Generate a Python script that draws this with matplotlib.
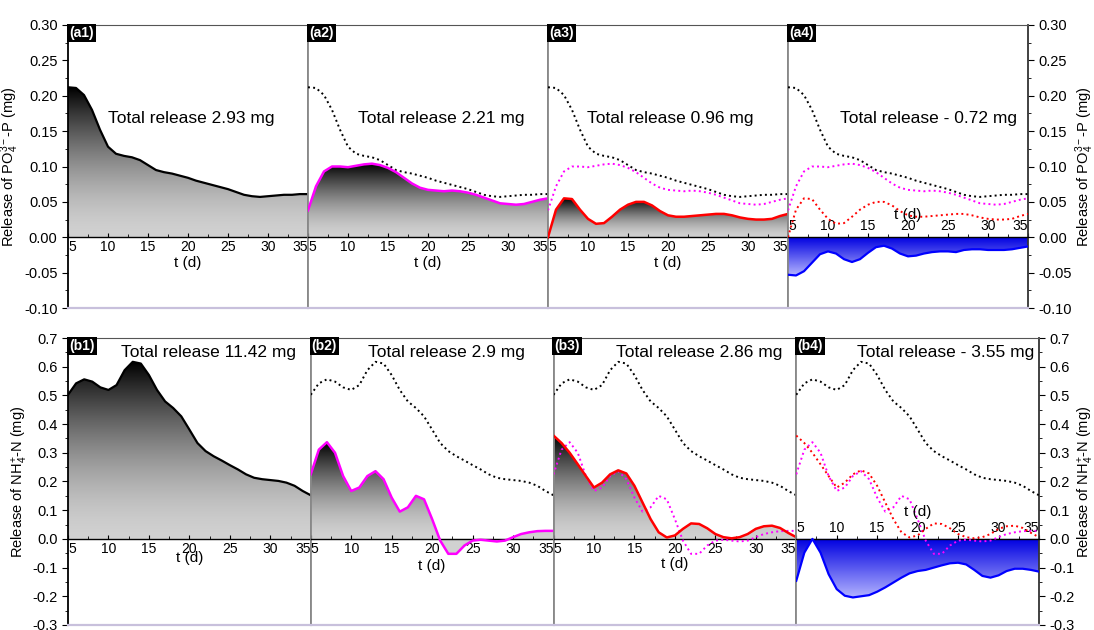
import numpy as np
import matplotlib
matplotlib.use("Agg")
import matplotlib.pyplot as plt
from matplotlib.ticker import MultipleLocator

plt.rcParams['font.family'] = ['Liberation Sans', 'DejaVu Sans']
plt.rcParams['mathtext.fontset'] = 'custom'
plt.rcParams['mathtext.rm'] = 'Liberation Sans'
plt.rcParams['mathtext.it'] = 'Liberation Sans:italic'
plt.rcParams['mathtext.default'] = 'regular'
plt.rcParams['axes.unicode_minus'] = False

# ---------- data, t = 5..35 d ----------
t = np.arange(5, 36)

# PO4-P release (mg)
p_ctrl = [0.212, 0.211, 0.201, 0.180, 0.152, 0.128, 0.118, 0.115, 0.113, 0.109,
          0.102, 0.095, 0.092, 0.090, 0.087, 0.084, 0.080, 0.077, 0.074, 0.071,
          0.068, 0.064, 0.060, 0.058, 0.057, 0.058, 0.059, 0.060, 0.060, 0.061, 0.061]
p_mag = [0.038, 0.072, 0.093, 0.100, 0.100, 0.099, 0.101, 0.103, 0.104, 0.102,
         0.098, 0.092, 0.084, 0.076, 0.070, 0.067, 0.066, 0.065, 0.066, 0.065,
         0.063, 0.060, 0.056, 0.052, 0.048, 0.047, 0.046, 0.047, 0.050, 0.053, 0.055]
p_red = [0.000, 0.039, 0.055, 0.054, 0.039, 0.026, 0.019, 0.020, 0.029, 0.039,
         0.046, 0.050, 0.050, 0.045, 0.037, 0.031, 0.029, 0.029, 0.030, 0.031,
         0.032, 0.033, 0.033, 0.031, 0.028, 0.026, 0.025, 0.025, 0.026, 0.030, 0.033]
p_blue = [-0.053, -0.054, -0.048, -0.036, -0.024, -0.020, -0.023, -0.031, -0.035, -0.031,
          -0.022, -0.014, -0.012, -0.016, -0.023, -0.027, -0.026, -0.023, -0.021, -0.020,
          -0.020, -0.021, -0.018, -0.017, -0.017, -0.018, -0.018, -0.018, -0.017, -0.015, -0.013]

# NH4-N release (mg)
n_ctrl = [0.502, 0.542, 0.556, 0.548, 0.528, 0.519, 0.536, 0.588, 0.617, 0.611,
          0.571, 0.519, 0.479, 0.456, 0.427, 0.381, 0.334, 0.306, 0.288, 0.273,
          0.257, 0.242, 0.225, 0.213, 0.208, 0.205, 0.202, 0.196, 0.185, 0.167, 0.152]
n_mag = [0.225, 0.311, 0.337, 0.300, 0.219, 0.167, 0.179, 0.219, 0.236, 0.208,
         0.144, 0.095, 0.110, 0.150, 0.138, 0.069, -0.006, -0.052, -0.052, -0.023,
         -0.006, -0.003, -0.006, -0.009, -0.006, 0.006, 0.017, 0.023, 0.027, 0.028, 0.028]
n_red = [0.360, 0.334, 0.300, 0.260, 0.219, 0.179, 0.196, 0.225, 0.239, 0.228,
         0.185, 0.127, 0.069, 0.023, 0.005, 0.012, 0.035, 0.054, 0.052, 0.037,
         0.017, 0.006, 0.002, 0.006, 0.017, 0.035, 0.044, 0.046, 0.038, 0.021, 0.006]
n_blue = [-0.146, -0.048, 0.000, -0.048, -0.123, -0.175, -0.198, -0.204, -0.200, -0.196,
          -0.184, -0.169, -0.152, -0.135, -0.120, -0.112, -0.108, -0.100, -0.092, -0.085,
          -0.083, -0.089, -0.108, -0.129, -0.135, -0.127, -0.112, -0.104, -0.104, -0.108, -0.114]

p_totals = ["Total release 2.93 mg", "Total release 2.21 mg",
            "Total release 0.96 mg", "Total release - 0.72 mg"]
n_totals = ["Total release 11.42 mg", "Total release 2.9 mg",
            "Total release 2.86 mg", "Total release - 3.55 mg"]
p_tags = ["(a1)", "(a2)", "(a3)", "(a4)"]
n_tags = ["(b1)", "(b2)", "(b3)", "(b4)"]


def grad_fill(ax, x, y, ylim, kind):
    poly = ax.fill_between(x, y, 0, facecolor='none', edgecolor='none')
    yy = np.linspace(ylim[0], ylim[1], 400)
    y = np.asarray(y)
    if kind == 'gray':
        frac = np.clip(yy / y.max(), 0, 1) ** 1.6
        light = np.array([0.82, 0.82, 0.82])
        dark = np.array([0.0, 0.0, 0.0])
        col = light[None, :] * (1 - frac[:, None]) + dark[None, :] * frac[:, None]
    else:
        frac = np.clip(yy / y.min(), 0, 1)
        top = np.array([0.0, 0.0, 0.88])
        bot = np.array([0.70, 0.70, 1.0])
        col = top[None, :] * (1 - frac[:, None]) + bot[None, :] * frac[:, None]
    img = col[:, None, :]
    im = ax.imshow(img, origin='lower', aspect='auto', interpolation='bilinear',
                   extent=[x[0], x[-1], ylim[0], ylim[1]], zorder=1)
    im.set_clip_path(poly.get_paths()[0], transform=ax.transData)


fig = plt.figure(figsize=(10.94, 6.30), dpi=100)
W, H = 1094.0, 630.0


def setup(ax, i, ylim, major, minor, fmt, ylabel, tag, total, tx, ty, tdy, above):
    ax.set_xlim(5, 35)
    ax.set_ylim(*ylim)
    ax.spines['bottom'].set_position(('data', 0))
    ax.spines['bottom'].set_linewidth(1.0)
    ax.spines['top'].set_color('#555555')
    for s in ['left', 'right']:
        ax.spines[s].set_linewidth(1.3)
        ax.spines[s].set_color('#888888')
    ax.axhline(ylim[0], color='#c8c0dc', lw=1.6, clip_on=False, zorder=5)

    ax.set_xticks(np.arange(5, 36, 5))
    ax.xaxis.set_minor_locator(MultipleLocator(2.5))
    ax.tick_params(axis='x', which='major', direction='in', length=3, labelsize=10,
                   pad=(-13 if above else 2), top=False)
    ax.tick_params(axis='x', which='minor', direction='in', length=2, top=False)
    labs = ax.set_xticklabels([str(v) for v in range(5, 36, 5)])
    labs[0].set_ha('left')
    labs[-1].set_ha('right')

    ax.yaxis.set_major_locator(MultipleLocator(major))
    ax.yaxis.set_minor_locator(MultipleLocator(minor))
    if i == 0:
        ax.spines['left'].set_color('black')
        ax.tick_params(axis='y', which='both', direction='out', left=True, right=False,
                       labelleft=True, labelsize=10.5)
        ax.tick_params(axis='y', which='major', length=4)
        ax.tick_params(axis='y', which='minor', length=2)
        ax.yaxis.set_major_formatter(fmt)
        ax.set_ylabel(ylabel, fontsize=10.5, labelpad=2)
    elif i == 3:
        ax.spines['right'].set_color('#333333')
        ax.tick_params(axis='y', which='both', direction='out', left=False, right=True,
                       labelleft=False, labelright=True, labelsize=10.5)
        ax.tick_params(axis='y', which='major', length=4)
        ax.tick_params(axis='y', which='minor', length=2)
        ax.yaxis.set_major_formatter(fmt)
        ax.yaxis.set_label_position('right')
        ax.set_ylabel(ylabel, fontsize=10.5, labelpad=1)
    else:
        ax.tick_params(axis='y', which='both', left=False, right=False,
                       labelleft=False, labelright=False)

    ax.text(0.004, 0.997, tag, transform=ax.transAxes, ha='left', va='top',
            color='white', fontsize=10, fontweight='bold', zorder=10,
            bbox=dict(boxstyle='square,pad=0.15', facecolor='black', edgecolor='none'))
    ax.text(tx, ty, total, ha='center', va='center', fontsize=12.5, zorder=10)
    ax.text(20, tdy, 't (d)', ha='center', va='center', fontsize=11, zorder=10)


p_fmt = matplotlib.ticker.FormatStrFormatter('%.2f')
n_fmt = matplotlib.ticker.FormatStrFormatter('%.1f')
p_label = 'Release of PO$_4^{3-}$-P (mg)'
n_label = 'Release of NH$_4^{+}$-N (mg)'
p_lim = (-0.10, 0.30)
n_lim = (-0.3, 0.7)

p_tx = [20.4, 21.6, 20.3, 22.5]
n_tx = [22.4, 21.8, 23.0, 23.4]
p_tdy = [-0.036, -0.037, -0.037, 0.032]
n_tdy = [-0.066, -0.093, -0.088, 0.092]

# ---------- top row: PO4-P ----------
for i in range(4):
    ax = fig.add_axes([(68 + 240 * i) / W, 1 - 308 / H, 240 / W, 283 / H])
    if i == 0:
        grad_fill(ax, t, p_ctrl, p_lim, 'gray')
        ax.plot(t, p_ctrl, color='black', lw=1.6, zorder=4)
    else:
        ax.plot(t, p_ctrl, color='black', ls=':', lw=1.4, zorder=3)
    if i == 1:
        grad_fill(ax, t, p_mag, p_lim, 'gray')
        ax.plot(t, p_mag, color='#ff00ff', lw=1.8, zorder=4)
    elif i > 1:
        ax.plot(t, p_mag, color='#ff00ff', ls=':', lw=1.4, zorder=3)
    if i == 2:
        grad_fill(ax, t, p_red, p_lim, 'gray')
        ax.plot(t, p_red, color='#ff0000', lw=1.8, zorder=4)
    elif i == 3:
        ax.plot(t, p_red, color='#ff0000', ls=':', lw=1.4, zorder=3)
        grad_fill(ax, t, p_blue, p_lim, 'blue')
        ax.plot(t, p_blue, color='#0000ff', lw=1.6, zorder=4)
    setup(ax, i, p_lim, 0.05, 0.025, p_fmt, p_label, p_tags[i], p_totals[i],
          p_tx[i], 0.168, p_tdy[i], i == 3)

# ---------- bottom row: NH4-N ----------
bw = 242.75
for i in range(4):
    ax = fig.add_axes([(68 + bw * i) / W, 1 - 625 / H, bw / W, 287 / H])
    if i == 0:
        grad_fill(ax, t, n_ctrl, n_lim, 'gray')
        ax.plot(t, n_ctrl, color='black', lw=1.6, zorder=4)
    else:
        ax.plot(t, n_ctrl, color='black', ls=':', lw=1.4, zorder=3)
    if i == 1:
        grad_fill(ax, t, n_mag, n_lim, 'gray')
        ax.plot(t, n_mag, color='#ff00ff', lw=1.8, zorder=4)
    elif i > 1:
        ax.plot(t, n_mag, color='#ff00ff', ls=':', lw=1.4, zorder=3)
    if i == 2:
        grad_fill(ax, t, n_red, n_lim, 'gray')
        ax.plot(t, n_red, color='#ff0000', lw=1.8, zorder=4)
    elif i == 3:
        ax.plot(t, n_red, color='#ff0000', ls=':', lw=1.4, zorder=3)
        grad_fill(ax, t, n_blue, n_lim, 'blue')
        ax.plot(t, n_blue, color='#0000ff', lw=1.6, zorder=4)
    setup(ax, i, n_lim, 0.1, 0.05, n_fmt, n_label, n_tags[i], n_totals[i],
          n_tx[i], 0.649, n_tdy[i], i == 3)

fig.savefig('out.png', dpi=100)
